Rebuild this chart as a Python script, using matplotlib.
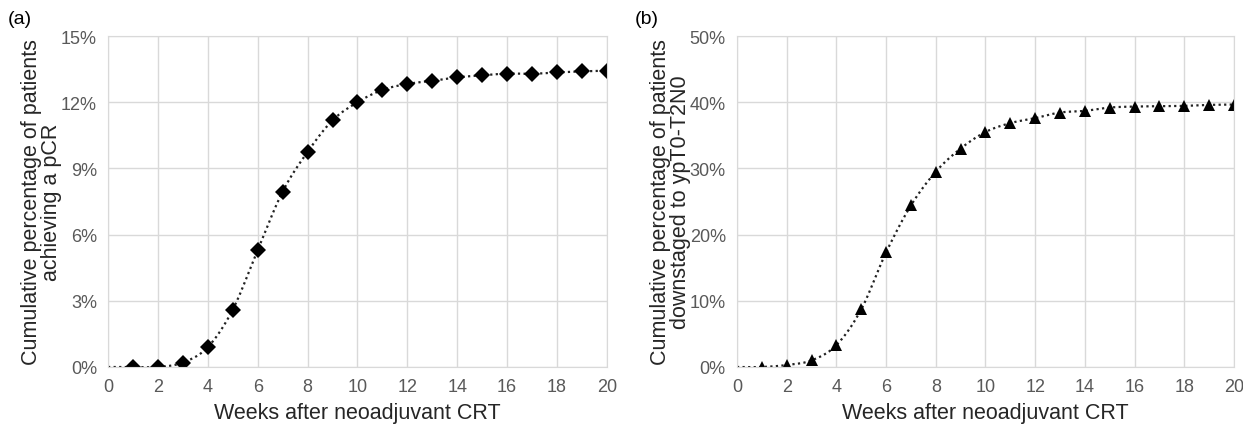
import numpy as np
import matplotlib
matplotlib.use("Agg")
import matplotlib.pyplot as plt
from matplotlib.ticker import FuncFormatter

plt.rcParams['font.family'] = ['Liberation Sans', 'DejaVu Sans']

weeks = list(range(1, 21))
pcr = [0.0, 0.0, 0.2, 0.9, 2.6, 5.3, 7.95, 9.75, 11.18, 12.0, 12.56, 12.83,
       12.97, 13.13, 13.22, 13.3, 13.29, 13.35, 13.4, 13.43]
downstage = [0.0, 0.3, 1.0, 3.3, 8.7, 17.3, 24.4, 29.5, 33.0, 35.5, 36.85, 37.6,
             38.45, 38.7, 39.2, 39.35, 39.4, 39.45, 39.6, 39.65]
x_ticks = list(range(0, 21, 2))
ylim_a, yticks_a = 15, [0, 3, 6, 9, 12, 15]
ylim_b, yticks_b = 50, [0, 10, 20, 30, 40, 50]


def smooth(xs, ys, n=20):
    # Catmull-Rom spline through the points (like Excel smoothed line)
    xs = np.asarray(xs, float); ys = np.asarray(ys, float)
    px = np.concatenate([[2*xs[0]-xs[1]], xs, [2*xs[-1]-xs[-2]]])
    py = np.concatenate([[2*ys[0]-ys[1]], ys, [2*ys[-1]-ys[-2]]])
    ox, oy = [], []
    for i in range(1, len(px)-2):
        t = np.linspace(0, 1, n, endpoint=False)
        for P, out in ((px, ox), (py, oy)):
            p0, p1, p2, p3 = P[i-1], P[i], P[i+1], P[i+2]
            out.extend(0.5*((2*p1) + (-p0+p2)*t + (2*p0-5*p1+4*p2-p3)*t**2
                            + (-p0+3*p1-3*p2+p3)*t**3))
    ox.append(xs[-1]); oy.append(ys[-1])
    return np.array(ox), np.array(oy)


fig = plt.figure(figsize=(12.43, 4.27), dpi=100)
axes_specs = [
    ([0.0869, 0.1382, 0.4014, 0.775], pcr, 'D', ylim_a, yticks_a,
     'Cumulative percentage of patients\nachieving a pCR', '(a)', 0.006),
    ([0.5929, 0.1382, 0.3998, 0.775], downstage, '^', ylim_b, yticks_b,
     'Cumulative percentage of patients\ndownstaged to ypT0-T2N0', '(b)', 0.511),
]
grid_c = '#d9d9d9'
for rect, vals, mk, ylim, yticks, ylabel, tag, tagx in axes_specs:
    ax = fig.add_axes(rect)
    sx, sy = smooth([0] + weeks, [0.0] + vals)
    ax.plot(sx, sy, linestyle=(0, (1, 1.5)), color='#222222', lw=1.6)
    ax.plot(weeks, vals, linestyle='none', marker=mk, color='black',
            markersize=8 if mk == 'D' else 9, markeredgewidth=0)
    ax.set_xlim(0, 20)
    ax.set_ylim(0, ylim)
    ax.set_xticks(x_ticks)
    ax.set_yticks(yticks)
    ax.yaxis.set_major_formatter(FuncFormatter(lambda v, p: f'{int(v)}%'))
    ax.grid(True, color=grid_c, lw=1)
    ax.set_axisbelow(True)
    for s in ax.spines.values():
        s.set_color(grid_c)
    ax.tick_params(length=0, labelsize=13, colors='#595959', pad=8)
    ax.set_xlabel('Weeks after neoadjuvant CRT', fontsize=15.5, color='#262626', labelpad=5)
    ax.set_ylabel(ylabel, fontsize=15.5, color='#262626', labelpad=-1, linespacing=0.95)
    fig.text(tagx, 0.975, tag, fontsize=14, va='top', ha='left', color='black')

fig.savefig('out.png', dpi=100)
